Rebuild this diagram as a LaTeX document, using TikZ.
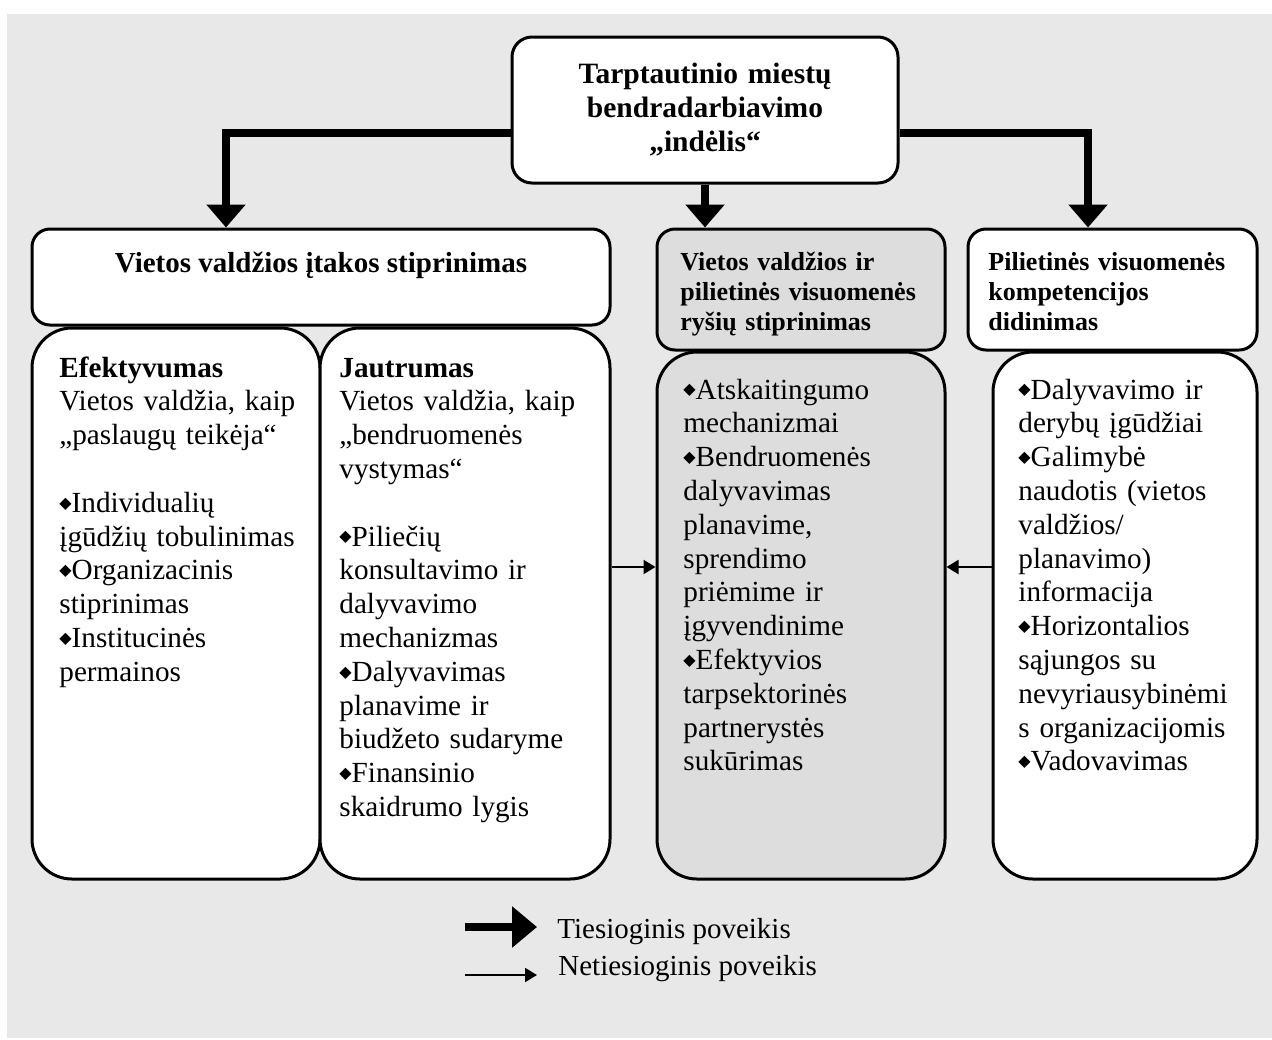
\documentclass[tikz,border=0pt]{standalone}
\usepackage{fontspec}
\setmainfont{Liberation Serif}
\newfontfamily\symb{DejaVu Sans}
\usetikzlibrary{arrows.meta, positioning}

\definecolor{bggray}{RGB}{232,232,232}
\definecolor{midgray}{RGB}{221,221,221}
\newcommand{\dia}{\raisebox{2.1pt}{\symb\fontsize{8}{8}\selectfont ◆}}

\begin{document}
\begin{tikzpicture}[x=0.5pt, y=-0.5pt, line join=miter]
\tikzstyle{box}=[draw, fill=white, inner sep=0pt, line width=1.5pt]
\tikzstyle{txt}=[inner sep=0pt, anchor=base west, align=left, text width=140pt, font=\fontsize{14.6}{16.9}\selectfont]
\tikzstyle{hdtxt}=[inner sep=0pt, anchor=base west, align=left, text width=135pt, font=\bfseries\fontsize{13}{15}\selectfont]
\tikzstyle{direct}=[line width=4pt, -{Triangle[width=19pt,length=11.5pt]}]
\tikzstyle{indirect}=[line width=1pt, -{Triangle[width=7pt,length=6pt]}]

\useasboundingbox (0,0) rectangle (1272,1039);
\fill[bggray] (7,14) rectangle (1272,1038);

% boxes
\node[box, rounded corners=10pt, minimum width=193pt, minimum height=73pt] (top) at (705,110) {};
\node[box, rounded corners=9pt, minimum width=289pt, minimum height=48pt] (hd1) at (321,277) {};
\node[box, fill=midgray, rounded corners=9pt, minimum width=144pt, minimum height=60.5pt] (hd2) at (801,289.5) {};
\node[box, rounded corners=9pt, minimum width=144.5pt, minimum height=60.5pt] (hd3) at (1112.5,289.5) {};
\node[box, rounded corners=20pt, minimum width=144pt, minimum height=275.5pt] (efk) at (176,603.5) {};
\node[box, rounded corners=20pt, minimum width=145pt, minimum height=275.5pt] (jau) at (465,603.5) {};
\node[box, fill=midgray, rounded corners=20pt, minimum width=144pt, minimum height=263.5pt] (mid) at (801,615.5) {};
\node[box, rounded corners=20pt, minimum width=132pt, minimum height=263.5pt] (res) at (1125,615.5) {};

% texts
\node[inner sep=0pt, anchor=base, align=center, text width=150pt, font=\bfseries\fontsize{14.75}{17}\selectfont] (topt) at (705,83)
  {Tarptautinio miestų\\ bendradarbiavimo\\ „indėlis“};
\node[inner sep=0pt, anchor=base, font=\bfseries\fontsize{14.5}{17}\selectfont] (hd1t) at (321,272)
  {Vietos valdžios įtakos stiprinimas};
\node[hdtxt] (hd2t) at (680,270) {Vietos valdžios ir\\ pilietinės visuomenės\\ ryšių stiprinimas};
\node[hdtxt] (hd3t) at (988,270) {Pilietinės visuomenės\\ kompetencijos\\ didinimas};

\node[txt] (efkt) at (59,377) {\textbf{Efektyvumas}\\ Vietos valdžia, kaip\\ „paslaugų teikėja“\\[16.9pt]
  \dia Individualių\\ įgūdžių tobulinimas\\ \dia Organizacinis\\ stiprinimas\\ \dia Institucinės\\ permainos};
\node[txt] (jaut) at (339,377) {\textbf{Jautrumas}\\ Vietos valdžia, kaip\\ „bendruomenės\\ vystymas“\\[16.9pt]
  \dia Piliečių\\ konsultavimo ir\\ dalyvavimo\\ mechanizmas\\ \dia Dalyvavimas\\ planavime ir\\ biudžeto sudaryme\\
  \dia Finansinio\\ skaidrumo lygis};
\node[txt] (midt) at (683,399) {\dia Atskaitingumo\\ mechanizmai\\ \dia Bendruomenės\\ dalyvavimas\\ planavime,\\ sprendimo\\
  priėmime ir\\ įgyvendinime\\ \dia Efektyvios\\ tarpsektorinės\\ partnerystės\\ sukūrimas};
\node[txt] (rest) at (1018,399) {\dia Dalyvavimo ir\\ derybų įgūdžiai\\ \dia Galimybė\\ naudotis (vietos\\ valdžios/\\ planavimo)\\
  informacija\\ \dia Horizontalios\\ sąjungos su\\ nevyriausybinėmi\\ s organizacijomis\\ \dia Vadovavimas};

% connectors
\draw[direct] ([yshift=-11.5pt]top.west) -| ([xshift=-47.5pt]hd1.north);
\draw[direct] ([yshift=-11.5pt]top.east) -| ([xshift=-12.25pt]hd3.north);
\draw[direct] (top.south) -- (top.south |- hd2.north);
\coordinate (ia) at ([yshift=18.25pt]jau.east);
\coordinate (ib) at ([yshift=24.25pt]res.west);
\draw[indirect] (ia) -- (ia -| mid.west);
\draw[indirect] (ib) -- (ib -| mid.east);

% legend
\coordinate (la) at (465,927);
\coordinate (lb) at (537,927);
\coordinate (lc) at (465,975);
\coordinate (ld) at (537,975);
\draw[line width=4pt, -{Triangle[width=20pt,length=12.5pt]}] (la) -- (lb);
\draw[indirect] (lc) -- (ld);
\node[inner sep=0pt, anchor=base west, font=\fontsize{14.5}{17}\selectfont] (leg1) at (557,938) {Tiesioginis poveikis};
\node[inner sep=0pt, anchor=base west, font=\fontsize{14.5}{17}\selectfont] (leg2) at (558,975) {Netiesioginis poveikis};
\end{tikzpicture}
\end{document}
